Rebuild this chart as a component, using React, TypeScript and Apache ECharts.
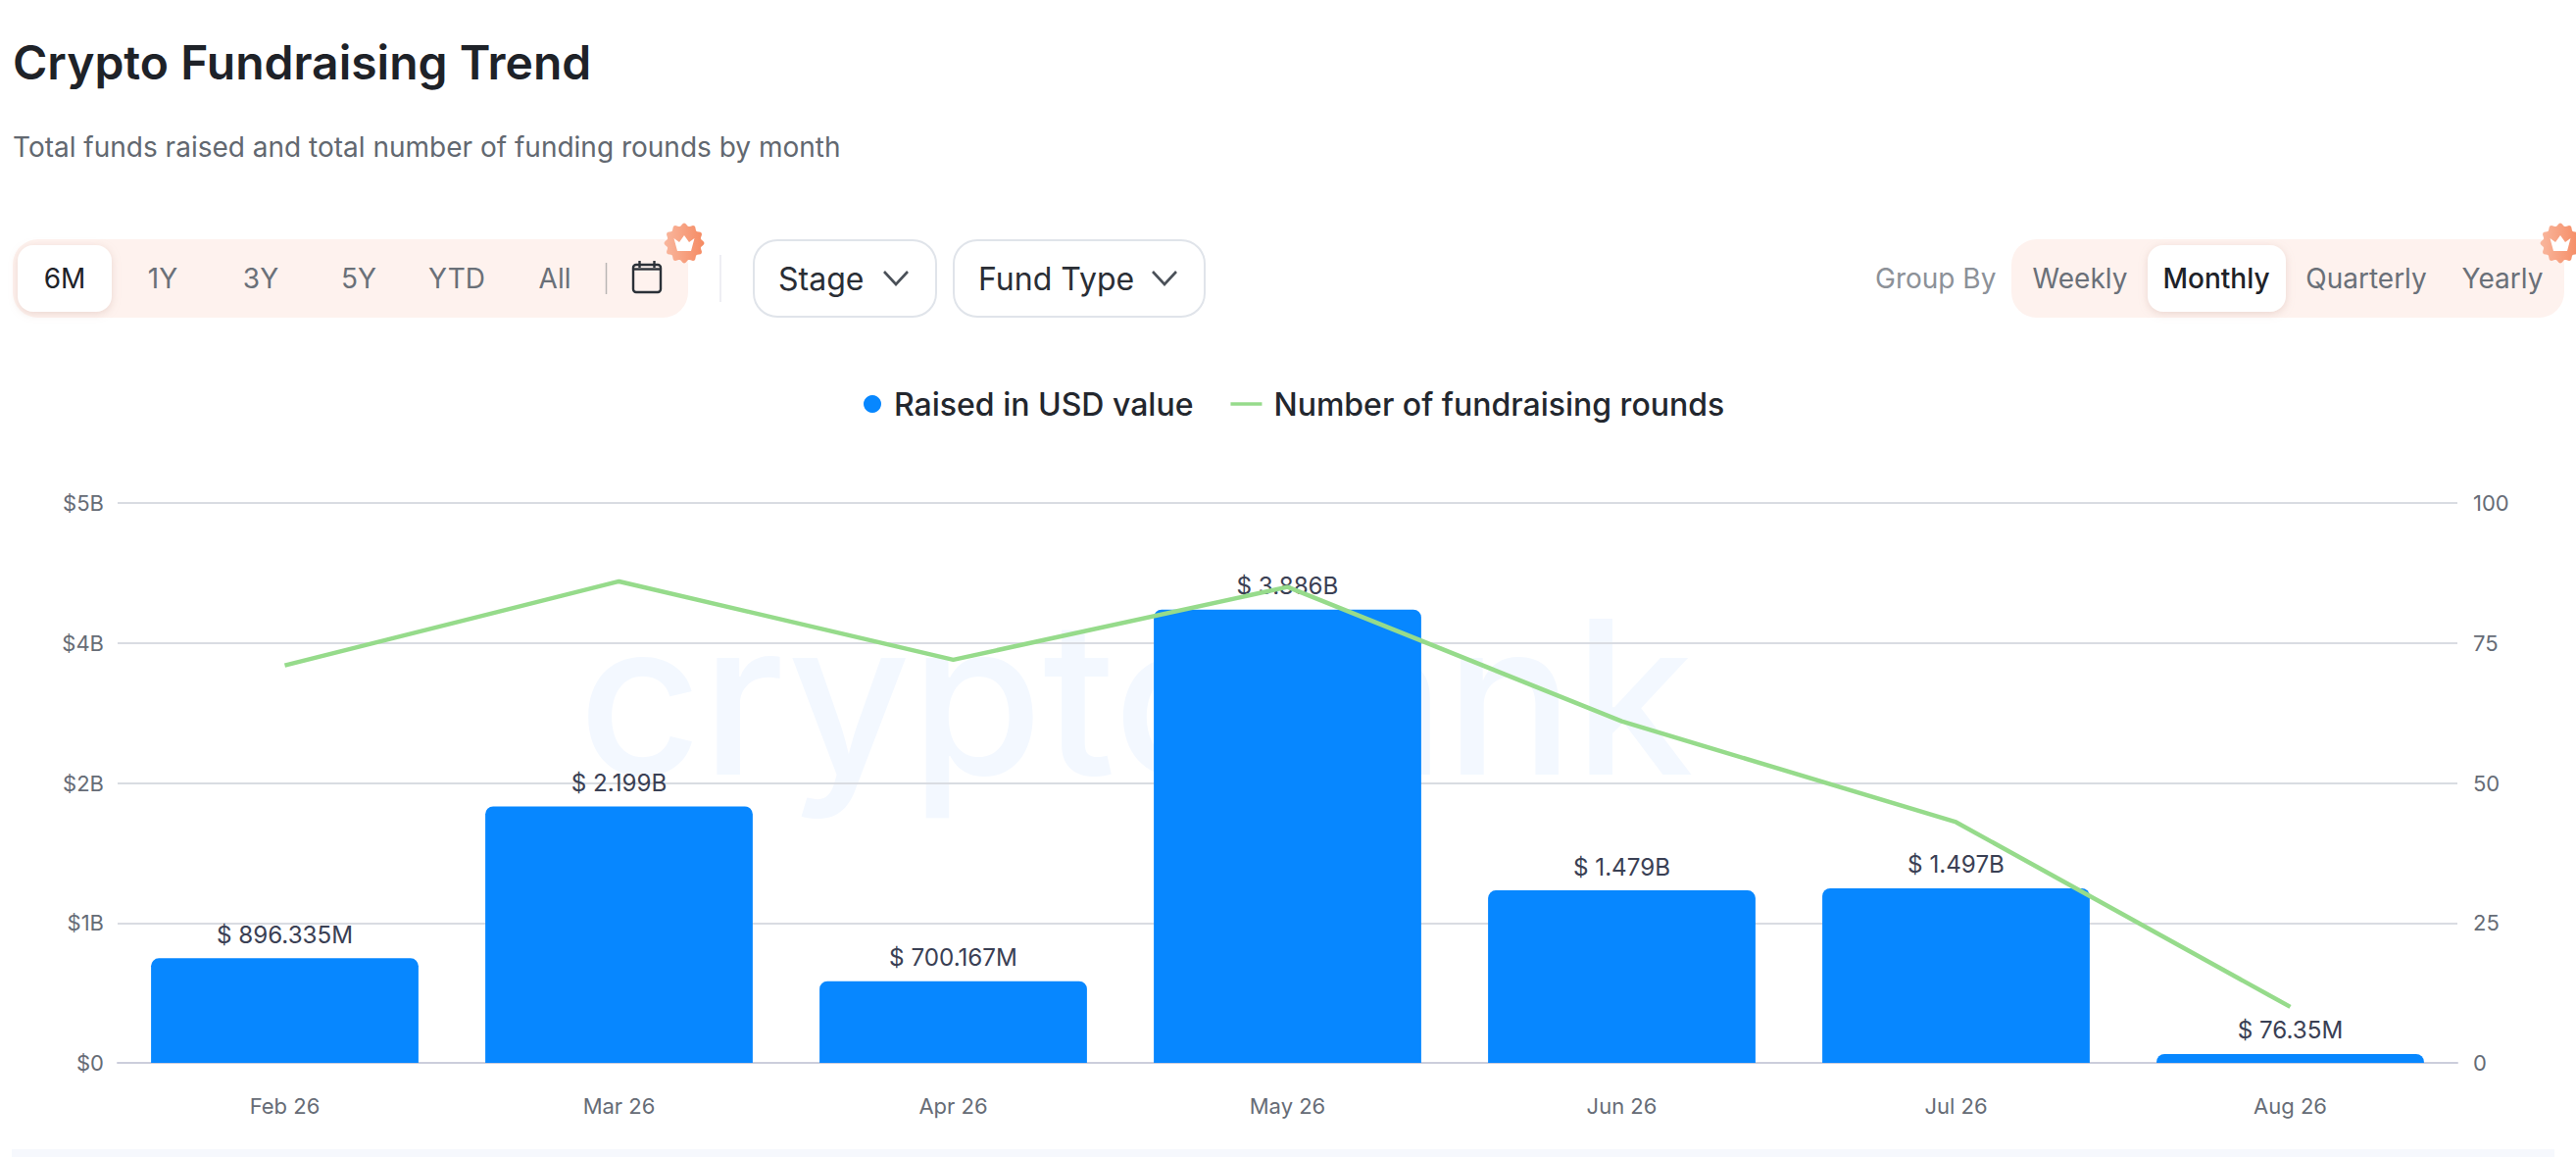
import React, { useEffect, useRef } from "react";
import * as echarts from "echarts";

const months = ["Feb 26", "Mar 26", "Apr 26", "May 26", "Jun 26", "Jul 26", "Aug 26"];
const raisedUsd = [896335000, 2199000000, 700167000, 3886000000, 1479000000, 1497000000, 76350000];
const rounds = [71, 86, 72, 85, 61, 43, 10];
const rangeTabs = ["6M", "1Y", "3Y", "5Y", "YTD", "All"];
const rangeTabCentres = [66, 166, 266, 366, 466, 566];
const groupTabs = ["Weekly", "Monthly", "Quarterly", "Yearly"];
const groupTabCentres = [2122, 2261, 2414, 2553];

const FONT = "Inter, 'Noto Sans', sans-serif";
const BLUE = "#0787FF";
const GREEN = "#96DB8B";
const PILL = "#FEF2EE";
const ICON = "#2B3138";

const money = (v: number) =>
  v >= 1e9 ? `$ ${(v / 1e9).toFixed(3)}B` : `$ ${+(v / 1e6).toFixed(3)}M`;

function badge(cx: number, cy: number): any[] {
  const pts: number[][] = [];
  const n = 96;
  for (let i = 0; i < n; i++) {
    const a = (i / n) * Math.PI * 2;
    const r = 19 + 1.5 * Math.cos(12 * a);
    pts.push([cx + r * Math.cos(a), cy + r * Math.sin(a)]);
  }
  return [
    {
      type: "polygon",
      shape: { points: pts },
      style: {
        fill: new echarts.graphic.LinearGradient(0, 0, 1, 0, [
          { offset: 0, color: "#F9B79E" },
          { offset: 1, color: "#F58A62" },
        ]),
      },
    },
    {
      type: "polygon",
      shape: {
        points: [
          [cx - 10.5, cy - 5],
          [cx - 5, cy - 1],
          [cx, cy - 8],
          [cx + 5, cy - 1],
          [cx + 10.5, cy - 5],
          [cx + 7, cy + 8],
          [cx - 7, cy + 8],
        ],
      },
      style: { fill: "#FFFFFF" },
    },
  ];
}

function text(t: string, x: number, y: number, size: number, fill: string, weight: number | string = 400, align = "center"): any {
  return {
    type: "text",
    x,
    y,
    style: { text: t, fontFamily: FONT, fontSize: size, fontWeight: weight, fill, align, verticalAlign: "middle" },
  };
}

function chevron(cx: number, cy: number): any {
  return {
    type: "polyline",
    shape: { points: [[cx - 12, cy - 6], [cx, cy + 7], [cx + 12, cy - 6]] },
    style: { stroke: "#4A5058", lineWidth: 2.6, fill: "none" },
  };
}

function header(): any[] {
  const g: any[] = [];
  g.push(text("Crypto Fundraising Trend", 13, 63, 48, "#1E2228", 600, "left"));
  g.push(text("Total funds raised and total number of funding rounds by month", 13, 150, 28, "#626870", 400, "left"));

  g.push({ type: "rect", shape: { x: 13, y: 244, width: 689, height: 80, r: 26 }, style: { fill: PILL } });
  g.push({
    type: "rect",
    shape: { x: 18, y: 250, width: 96, height: 68, r: 16 },
    style: { fill: "#FFFFFF", shadowBlur: 8, shadowColor: "rgba(200,160,150,0.35)", shadowOffsetY: 2 },
  });
  rangeTabs.forEach((t, i) => g.push(text(t, rangeTabCentres[i], 284, 28, i === 0 ? "#1E2228" : "#6A7078", 400)));
  g.push({ type: "line", shape: { x1: 618.5, y1: 268, x2: 618.5, y2: 300 }, style: { stroke: "#B9B6B4", lineWidth: 1.5 } });
  g.push({ type: "rect", shape: { x: 646, y: 270, width: 28, height: 28, r: 3 }, style: { fill: "none", stroke: ICON, lineWidth: 2.4 } });
  g.push({ type: "line", shape: { x1: 646, y1: 274.5, x2: 674, y2: 274.5 }, style: { stroke: ICON, lineWidth: 2.4 } });
  g.push({ type: "line", shape: { x1: 652.5, y1: 266, x2: 652.5, y2: 273 }, style: { stroke: ICON, lineWidth: 2.4 } });
  g.push({ type: "line", shape: { x1: 667.5, y1: 266, x2: 667.5, y2: 273 }, style: { stroke: ICON, lineWidth: 2.4 } });
  g.push(...badge(698, 248));

  g.push({ type: "line", shape: { x1: 735, y1: 260, x2: 735, y2: 308 }, style: { stroke: "#E8E9EF", lineWidth: 1.5 } });
  g.push({ type: "rect", shape: { x: 769, y: 245, width: 186, height: 78, r: 24 }, style: { fill: "#FFFFFF", stroke: "#E0E4EA", lineWidth: 2 } });
  g.push(text("Stage", 794, 284, 32, "#2A2E35", 400, "left"));
  g.push(chevron(914, 283));
  g.push({ type: "rect", shape: { x: 973, y: 245, width: 256, height: 78, r: 24 }, style: { fill: "#FFFFFF", stroke: "#E0E4EA", lineWidth: 2 } });
  g.push(text("Fund Type", 998, 284, 32, "#2A2E35", 400, "left"));
  g.push(chevron(1188, 283));

  g.push(text("Group By", 1913, 284, 28, "#8C9198", 400, "left"));
  g.push({ type: "rect", shape: { x: 2052, y: 244, width: 564, height: 80, r: 26 }, style: { fill: PILL } });
  g.push({
    type: "rect",
    shape: { x: 2191, y: 250, width: 141, height: 68, r: 16 },
    style: { fill: "#FFFFFF", shadowBlur: 8, shadowColor: "rgba(200,160,150,0.35)", shadowOffsetY: 2 },
  });
  groupTabs.forEach((t, i) => g.push(text(t, groupTabCentres[i], 284, 28, i === 1 ? "#1E2228" : "#6A7078", i === 1 ? 500 : 400)));
  g.push(...badge(2612, 248));

  g.push({ type: "rect", shape: { x: 12, y: 1172, width: 2594, height: 8 }, style: { fill: "#F6F8FD" } });
  return g;
}

export default function App() {
  const ref = useRef<HTMLDivElement>(null);
  useEffect(() => {
    document.body.style.margin = "0";
    const chart = echarts.init(ref.current!, undefined, { renderer: "svg" });
    chart.setOption({
      animation: false,
      backgroundColor: "#FFFFFF",
      textStyle: { fontFamily: FONT },
      legend: {
        left: 876,
        top: 391,
        itemGap: 38,
        itemWidth: 32,
        itemHeight: 18,
        selectedMode: false,
        textStyle: { fontFamily: FONT, fontSize: 32, fontWeight: 500, color: "#23272E", padding: [0, 0, 0, 1] },
        data: [
          { name: "Raised in USD value", icon: "circle" },
          { name: "Number of fundraising rounds", icon: "path://M0 0H32V3.5H0Z", textStyle: { padding: [0, 0, 0, 7] } },
        ],
      },
      grid: { left: 120, right: 121, top: 513, bottom: 96 },
      xAxis: {
        type: "category",
        data: months,
        axisTick: { show: false },
        axisLine: { lineStyle: { color: "#CCCEDC", width: 2 } },
        axisLabel: { color: "#666C76", fontSize: 22, margin: 33, fontFamily: FONT },
      },
      yAxis: [
        {
          type: "value",
          min: 0,
          max: 4800000000,
          interval: 1200000000,
          axisLine: { show: false },
          axisTick: { show: false },
          splitLine: { lineStyle: { color: "#D9DCE2", width: 2 } },
          axisLabel: {
            color: "#666C76",
            fontSize: 22,
            margin: 14,
            fontFamily: FONT,
            formatter: (v: number) => (v === 0 ? "$0" : `$${Math.round(v / 1e9)}B`),
          },
        },
        {
          type: "value",
          min: 0,
          max: 100,
          interval: 25,
          axisLine: { show: false },
          axisTick: { show: false },
          splitLine: { show: false },
          axisLabel: { color: "#666C76", fontSize: 22, margin: 16, fontFamily: FONT },
        },
      ],
      series: [
        {
          name: "Raised in USD value",
          type: "bar",
          data: raisedUsd,
          barWidth: "80%",
          itemStyle: { color: BLUE, borderRadius: [8, 8, 0, 0] },
          label: {
            show: true,
            position: "top",
            distance: 12,
            fontFamily: FONT,
            fontSize: 24.2,
            color: "#3A4054",
            formatter: (p: any) => money(p.value),
          },
        },
        {
          name: "Number of fundraising rounds",
          type: "line",
          yAxisIndex: 1,
          data: rounds,
          showSymbol: false,
          symbol: "none",
          lineStyle: { color: GREEN, width: 4.5 },
          itemStyle: { color: GREEN },
        },
      ],
      graphic: [
        {
          type: "text",
          x: 590,
          y: 711,
          z: -10,
          silent: true,
          style: { text: "cryptorank", fontFamily: FONT, fontSize: 218, fontWeight: 500, fill: "#F3F8FF", align: "left", verticalAlign: "middle" },
        },
        ...header(),
      ],
    });
    return () => chart.dispose();
  }, []);
  return <div ref={ref} style={{ width: 2628, height: 1180 }} />;
}
